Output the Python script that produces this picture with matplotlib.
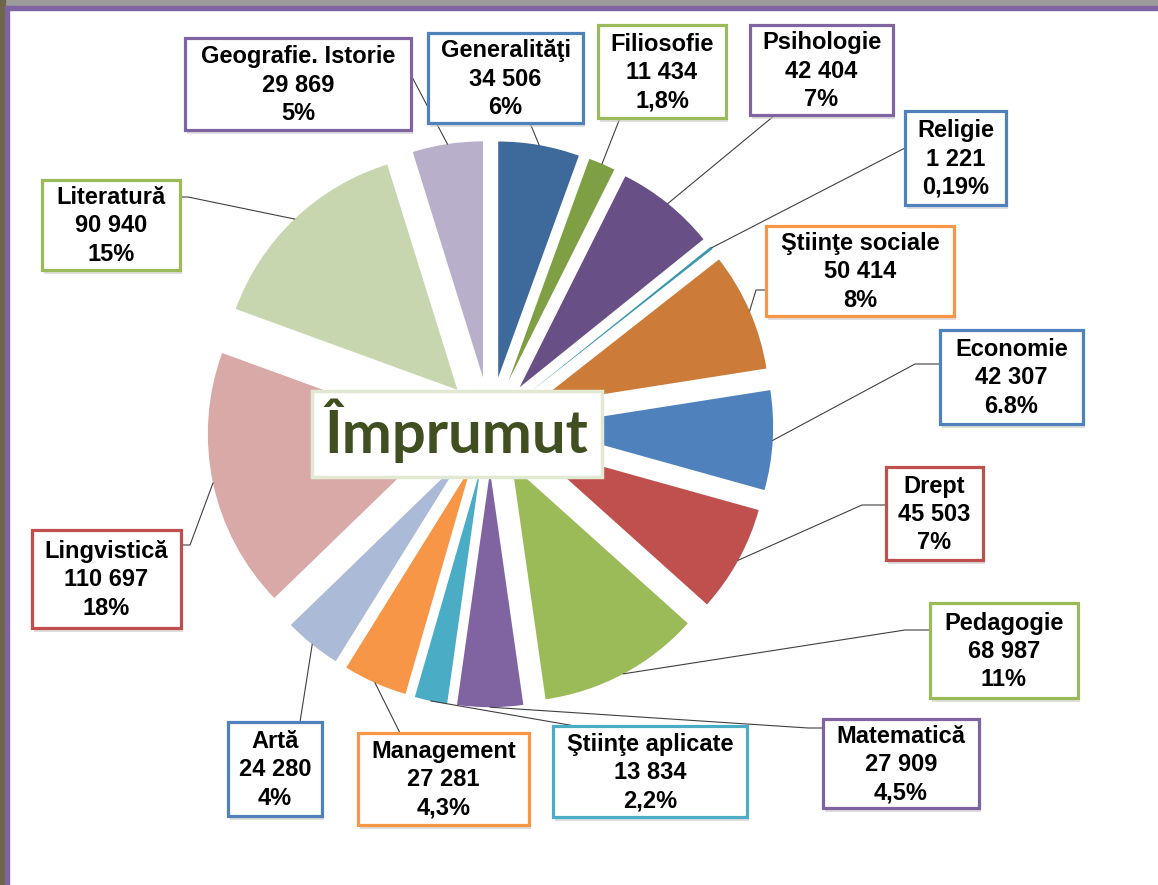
import math
import matplotlib.pyplot as plt
from matplotlib.patches import Rectangle

plt.rcParams['font.family'] = ['Liberation Sans', 'DejaVu Sans']

# lending by subject area, clockwise from 12 o'clock
categories = ['Generalităţi', 'Filiosofie', 'Psihologie', 'Religie', 'Ştiinţe sociale',
              'Economie', 'Drept', 'Pedagogie', 'Matematică', 'Ştiinţe aplicate',
              'Management', 'Artă', 'Lingvistică', 'Literatură', 'Geografie. Istorie']
values = [34506, 11434, 42404, 1221, 50414, 42307, 45503, 68987, 27909, 13834,
          27281, 24280, 110697, 90940, 29869]
shares = ['6%', '1,8%', '7%', '0,19%', '8%', '6.8%', '7%', '11%', '4,5%', '2,2%',
          '4,3%', '4%', '18%', '15%', '5%']

slice_colors = ['#3E6A9B', '#7F9F45', '#684F86', '#3A97AE', '#CC7B38',
                '#4F81BD', '#C0504D', '#9BBB59', '#8064A2', '#4BACC6',
                '#F79646', '#AABAD7', '#D9A9A8', '#C7D6AE', '#B8AFCA']
box_colors = ['#4F81BD', '#9BBB59', '#8064A2', '#4F81BD', '#F79646',
              '#4F81BD', '#C0504D', '#9BBB59', '#8064A2', '#4BACC6',
              '#F79646', '#4F81BD', '#C0504D', '#9BBB59', '#8064A2']

# label boxes (x0, y0, x1, y1) in pixels, leader start and optional elbow
boxes = [(428, 33, 583, 123), (598, 25, 726, 118), (750, 25, 893, 115),
         (905, 111, 1006, 205), (766, 226, 954, 316), (940, 330, 1083, 424),
         (886, 467, 983, 560), (930, 603, 1078, 698), (823, 719, 979, 808),
         (553, 726, 747, 817), (358, 733, 529, 825), (228, 722, 322, 816),
         (32, 530, 181, 628), (42, 180, 180, 270), (185, 38, 411, 130)]
starts = [(530, 123), (620, 118), (775, 115), (905, 148), (766, 290),
          (940, 364), (886, 505), (930, 630), (823, 728), (575, 726),
          (400, 733), (300, 722), (181, 545), (180, 197), (411, 75)]
elbows = [None, None, None, None, (756, 290),
          (915, 364), (862, 505), (905, 630), (808, 728), None,
          None, None, (190, 545), (188, 197), None]

W, H = 1158, 885
fig = plt.figure(figsize=(W / 100, H / 100), dpi=100)
ax = fig.add_axes([0, 0, 1, 1])

radius = 236
center = (490, 424)
wedges, _ = ax.pie(values, colors=slice_colors, explode=[0.2 * radius] * len(values),
                   startangle=-90, counterclock=True, radius=radius, center=center,
                   wedgeprops=dict(linewidth=0))
ax.set_xlim(0, W)
ax.set_ylim(H, 0)
ax.set_axis_off()

# window frame
ax.add_patch(Rectangle((0, 0), W, 6, color='#9C9C9C', clip_on=False, zorder=1))
ax.add_patch(Rectangle((0, 0), 5, H, color='#6E6649', clip_on=False, zorder=1))
ax.add_patch(Rectangle((5, 6), 4, H, color='#8064A2', clip_on=False, zorder=1))
ax.add_patch(Rectangle((5, 6), W, 4, color='#8064A2', clip_on=False, zorder=1))

for w, name, v, pct, ec, (x0, y0, x1, y1), st, el in zip(
        wedges, categories, values, shares, box_colors, boxes, starts, elbows):
    thm = math.radians((w.theta1 + w.theta2) / 2)
    end = (w.center[0] + w.r * math.cos(thm), w.center[1] + w.r * math.sin(thm))
    pts = [st] + ([el] if el else []) + [end]
    ax.plot([p[0] for p in pts], [p[1] for p in pts], color='#404040', lw=0.8, zorder=3)

    ax.add_patch(Rectangle((x0 + 2, y0 + 4), x1 - x0, y1 - y0, facecolor='#C8C8C8',
                           edgecolor='none', alpha=0.6, zorder=4))
    ax.add_patch(Rectangle((x0, y0), x1 - x0, y1 - y0, facecolor='white',
                           edgecolor=ec, lw=2.3, zorder=5))
    label = '%s\n%s\n%s' % (name, f'{v:,}'.replace(',', ' '), pct)
    ax.text((x0 + x1) / 2, (y0 + y1) / 2 + 1, label, ha='center', va='center',
            fontsize=17, fontweight='bold', linespacing=1.3, zorder=6)

ax.add_patch(Rectangle((312, 391), 290, 86, facecolor='white', edgecolor='#E2E9D2',
                       lw=2.5, zorder=5))
ax.text(456, 431, 'Împrumut', ha='center', va='center', fontsize=43, fontweight='bold',
        family=['Lato', 'DejaVu Sans'], color='#404F20', zorder=6)

plt.savefig('out.png', dpi=100)
